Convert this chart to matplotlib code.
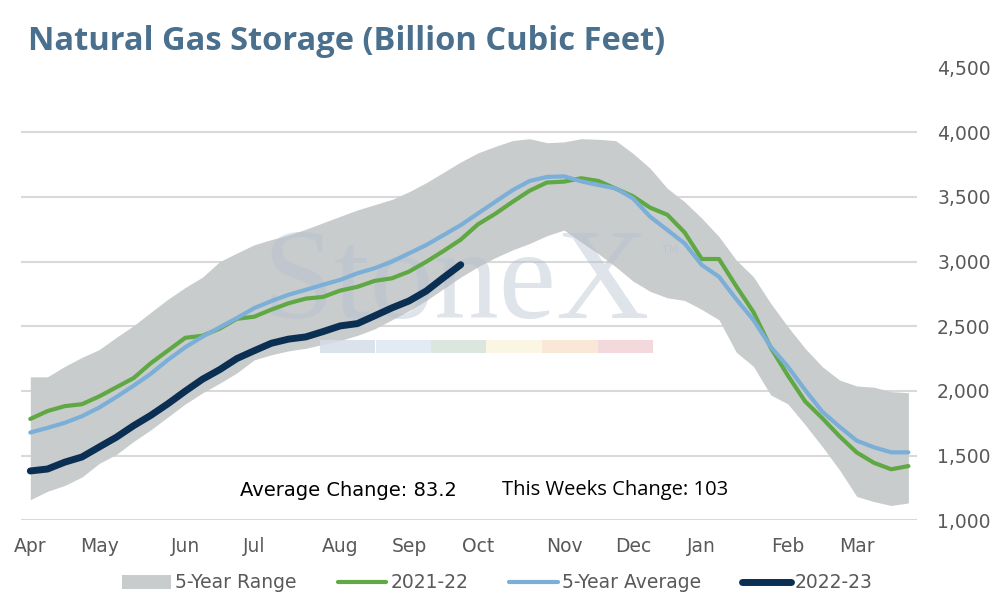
import numpy as np
import matplotlib
matplotlib.use("Agg")
import matplotlib.pyplot as plt
from matplotlib.patches import Rectangle

# weekly storage, Bcf (week 0 = first week of April)
months = ["Apr", "May", "Jun", "Jul", "Aug", "Sep", "Oct", "Nov", "Dec", "Jan", "Feb", "Mar"]
month_weeks = [0, 4, 9, 13, 18, 22, 26, 31, 35, 39, 44, 48]

range_high = [2110, 2110, 2190, 2260, 2320, 2415, 2505, 2608, 2710, 2800,
              2880, 3000, 3066, 3130, 3170, 3206, 3250, 3300, 3350, 3399,
              3440, 3480, 3540, 3610, 3690, 3770, 3840, 3890, 3935, 3950,
              3919, 3925, 3950, 3945, 3935, 3837, 3721, 3566, 3463, 3335,
              3193, 3012, 2883, 2678, 2497, 2330, 2188, 2085, 2039, 2029,
              1995, 1987]
range_low = [1160, 1225, 1270, 1335, 1440, 1510, 1610, 1700, 1800, 1900,
             1985, 2060, 2140, 2240, 2280, 2310, 2330, 2360, 2390, 2430,
             2480, 2550, 2620, 2700, 2790, 2880, 2960, 3030, 3090, 3140,
             3200, 3244, 3150, 3060, 2960, 2850, 2770, 2720, 2700, 2630,
             2550, 2300, 2190, 1970, 1900, 1740, 1570, 1390, 1185, 1145,
             1115, 1135]
avg_5yr = [1679, 1715, 1754, 1805, 1872, 1954, 2041, 2133, 2241, 2338,
           2420, 2492, 2564, 2640, 2695, 2744, 2782, 2821, 2859, 2910,
           2949, 3000, 3064, 3128, 3205, 3282, 3372, 3462, 3551, 3623,
           3654, 3659, 3620, 3592, 3566, 3489, 3347, 3244, 3141, 2974,
           2883, 2710, 2549, 2343, 2188, 2008, 1840, 1724, 1616, 1565,
           1526, 1526]
y2021_22 = [1784, 1845, 1883, 1898, 1958, 2029, 2100, 2215, 2313, 2411,
            2427, 2482, 2558, 2574, 2629, 2678, 2714, 2727, 2776, 2805,
            2851, 2871, 2923, 2999, 3082, 3170, 3288, 3369, 3461, 3548,
            3611, 3618, 3644, 3623, 3564, 3505, 3417, 3362, 3226, 3020,
            3020, 2810, 2610, 2336, 2120, 1920, 1790, 1650, 1525, 1445,
            1395, 1420]
y2022_23 = [1382, 1397, 1450, 1490, 1567, 1643, 1732, 1812, 1902, 1999,
            2091, 2165, 2251, 2311, 2369, 2401, 2418, 2459, 2503, 2521,
            2581, 2642, 2696, 2773, 2876, 2976]

avg_change = "Average Change: 83.2"
week_change = "This Weeks Change: 103"

weeks = np.arange(len(range_high))
txt_col = "#595959"

fig = plt.figure(figsize=(9.95, 6.06), dpi=100)
ax = fig.add_axes([21 / 995, 1 - 520.4 / 606, 896 / 995, 452.9 / 606])

ax.fill_between(weeks, range_low, range_high, color="#C9CCCD", lw=0, zorder=1,
                label="5-Year Range")
ax.plot(weeks, y2021_22, color="#5FA843", lw=3, zorder=3, label="2021-22",
        solid_capstyle="round")
ax.plot(weeks, avg_5yr, color="#7BAFD8", lw=3, zorder=3, label="5-Year Average",
        solid_capstyle="round")
ax.plot(np.arange(len(y2022_23)), y2022_23, color="#0B2F52", lw=5, zorder=4,
        label="2022-23", solid_capstyle="round")

# faint StoneX watermark
def ax_xy(px, py):
    return (px - 21) / 896, (520.4 - py) / 452.9

wx, wy = ax_xy(262, 318)
ax.text(wx, wy, "StoneX", transform=ax.transAxes, fontsize=93,
        family="Liberation Serif", color="#B4C0D0", alpha=0.42, zorder=2,
        ha="left", va="baseline")
tx, ty = ax_xy(662, 250)
ax.text(tx, ty, "TM", transform=ax.transAxes, fontsize=8, color="#B4C0D0",
        alpha=0.6, zorder=2, ha="left", va="center")
stripe = ["#D6DDE8", "#DDE8F3", "#D4E2D9", "#FBF5DF", "#FAE5CF", "#F1D3D6"]
for k, c in enumerate(stripe):
    x0, y0 = ax_xy(320 + k * 55.5, 353)
    ax.add_patch(Rectangle((x0, y0), 55.5 / 896, 13 / 452.9, transform=ax.transAxes,
                           color=c, alpha=0.85, lw=0, zorder=2))

ax.set_xlim(-0.54, 51.5)
ax.set_ylim(1000, 4500)
ax.set_yticks(np.arange(1000, 4501, 500))
ax.yaxis.tick_right()
ax.set_yticklabels([f"{v:,}" for v in range(1000, 4501, 500)])
for lab in ax.get_yticklabels():
    lab.set_horizontalalignment("right")
ax.tick_params(axis="y", length=0, pad=53, labelsize=13.5, labelcolor=txt_col)
ax.set_xticks(month_weeks)
ax.set_xticklabels(months)
ax.tick_params(axis="x", length=0, pad=12, labelsize=13.5, labelcolor=txt_col)
ax.grid(axis="y", color="#D9D9D9", lw=1.5, zorder=0)
ax.set_axisbelow(True)
for s in ax.spines.values():
    s.set_visible(False)

fig.text(28 / 995, 1 - 42 / 606, "Natural Gas Storage (Billion Cubic Feet)",
         fontsize=23.5, fontweight="bold", color="#4A708D", family="Open Sans",
         ha="left", va="center")

fig.text(240 / 995, 1 - 490 / 606, avg_change, fontsize=14, color="black",
         family="DejaVu Sans", ha="left", va="center")
fig.text(502 / 995, 1 - 490 / 606, week_change, fontsize=14.5, color="black",
         family="Open Sans", ha="left", va="center")

leg = fig.legend(loc="center", bbox_to_anchor=(0.5, 1 - 583 / 606), ncol=4,
                 frameon=False, fontsize=13.5, handlelength=2.6, handletextpad=0.2,
                 columnspacing=2.2, labelcolor=txt_col)

fig.savefig("out.png", dpi=100)
